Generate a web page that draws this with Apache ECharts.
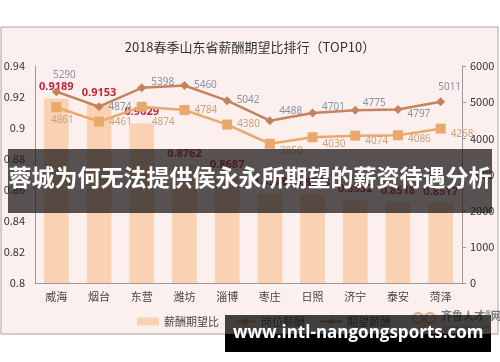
<!DOCTYPE html>
<html>
<head>
<meta charset="utf-8">
<script src="https://cdn.jsdelivr.net/npm/echarts@6/dist/echarts.min.js"></script>
<style>
html,body{margin:0;padding:0;background:#fff;}
#chart{width:500px;height:362px;}
</style>
</head>
<body>
<div id="chart"></div>
<script>
// ---- data ----
var categories = ['威海','烟台','东营','潍坊','淄博','枣庄','日照','济宁','泰安','菏泽'];
var ratioValues = [0.9189, 0.9153, 0.9029, 0.8762, 0.8687, 0.8578, 0.8573, 0.8532, 0.8518, 0.8517];
var postSalary = [4861, 4461, 4874, 4784, 4380, 3850, 4030, 4074, 4086, 4268];
var expectSalary = [5290, 4874, 5398, 5460, 5042, 4488, 4701, 4775, 4797, 5011];
var leftTicks = [0.8, 0.82, 0.84, 0.86, 0.88, 0.9, 0.92, 0.94];
var rightTicks = [0, 1000, 2000, 3000, 4000, 5000, 6000];

// ---- label placement (styling only) ----
var expectLabelPos = [
  ['top',[8,-2]],['right',[0,0]],['right',[0,-6]],['right',[0,0]],['right',[0,0]],
  ['right',[0,-10]],['right',[0,-6]],['right',[-2,-7]],['right',[0,5]],['top',[9,0]]
];
var postLabelPos = [
  ['bottom',[6,-2]],['right',[0,0]],['right',[0,15]],['right',[0,0]],['right',[0,0]],
  ['right',[0,7]],['right',[0,7]],['right',[0,5]],['right',[0,4]],['right',[0,6]]
];

var chart = echarts.init(document.getElementById('chart'), null, {renderer:'canvas'});
var fontCJK = '"Noto Sans CJK SC","Noto Sans",sans-serif';

function mk(values, pos){
  return values.map(function(v,i){
    return {value:v, label:{position:pos[i][0], offset:pos[i][1]}};
  });
}

var option = {
  backgroundColor:'#ffffff',
  animation:false,
  textStyle:{fontFamily:fontCJK},
  title:{
    text:'2018春季山东省薪酬期望比排行（TOP10）',
    left:'center', top:36,
    textStyle:{fontSize:13, fontWeight:'normal', color:'#333', fontFamily:fontCJK}
  },
  legend:{
    left:132, top:311,
    itemWidth:22, itemHeight:8, itemGap:14,
    textStyle:{fontSize:11, color:'#444'},
    data:[
      {name:'薪酬期望比', icon:'rect'},
      {name:'岗位薪酬'},
      {name:'期望薪酬'}
    ]
  },
  grid:{left:35, right:38, top:66, bottom:79},
  xAxis:{
    type:'category', data:categories, boundaryGap:true,
    axisLine:{lineStyle:{color:'#a09898', width:1}},
    axisTick:{show:false},
    axisLabel:{fontSize:11, color:'#444', margin:8}
  },
  yAxis:[
    {
      type:'value', min:leftTicks[0], max:leftTicks[leftTicks.length-1], interval:0.02,
      axisLine:{show:true, lineStyle:{color:'#a09898'}},
      axisTick:{show:false},
      splitLine:{show:false},
      axisLabel:{fontSize:11, color:'#333', margin:10,
        formatter:function(v){return String(+v.toFixed(2));}}
    },
    {
      type:'value', min:rightTicks[0], max:rightTicks[rightTicks.length-1], interval:1000,
      axisLine:{show:true, lineStyle:{color:'#a09898'}},
      axisTick:{show:true, length:4, lineStyle:{color:'#a09898'}},
      splitLine:{show:false},
      axisLabel:{fontSize:11, color:'#333', margin:8,
        formatter:function(v){return String(v);}}
    }
  ],
  series:[
    {
      name:'薪酬期望比', type:'bar', yAxisIndex:0,
      data:ratioValues, barWidth:'58%',
      itemStyle:{color:'#f8d2b2'},
      label:{show:true, position:'top', distance:6, fontSize:11, fontWeight:'bold',
        color:'#b8283c', fontFamily:'"Noto Sans",sans-serif',
        formatter:function(p){return p.value.toFixed(4);}},
      z:2
    },
    {
      name:'岗位薪酬', type:'line', yAxisIndex:1,
      data:mk(postSalary, postLabelPos),
      symbol:'rect', symbolSize:10,
      lineStyle:{color:'#eba86c', width:2.5},
      itemStyle:{color:'#eba86c'},
      label:{show:true, fontSize:10, color:'#caa27c', distance:5, fontFamily:'"Noto Sans",sans-serif'},
      z:3
    },
    {
      name:'期望薪酬', type:'line', yAxisIndex:1,
      data:mk(expectSalary, expectLabelPos),
      symbol:'diamond', symbolSize:9,
      lineStyle:{color:'#c4835c', width:2.5},
      itemStyle:{color:'#c4835c'},
      label:{show:true, fontSize:10, color:'#8593a3', distance:5, fontFamily:'"Noto Sans",sans-serif'},
      z:4
    }
  ],
  graphic:[
    {type:'rect', z:-10, shape:{x:1, y:27, width:497, height:307},
      style:{fill:'#fcf0ee', stroke:'#aaa2a2', lineWidth:1}},
    // logo
    {type:'circle', z:50, shape:{cx:418, cy:318, r:5}, style:{fill:'none', stroke:'#e6a86e', lineWidth:2}},
    {type:'circle', z:50, shape:{cx:430, cy:318, r:5}, style:{fill:'none', stroke:'#e6a86e', lineWidth:2}},
    {type:'text', z:50, left:441, top:310, style:{text:'齐鲁人才®网', fill:'#7a7a7a', font:'bold 11px "Noto Sans CJK SC"'}},
    {type:'text', z:50, left:443, top:324, style:{text:'www.qlrc.com', fill:'#999', font:'7px "Noto Sans"'}},
    // banner
    {type:'rect', z:100, shape:{x:8, y:149, width:484, height:64},
      style:{fill:'rgba(30,25,25,0.74)'}},
    {type:'text', z:101, left:'center', top:166,
      style:{text:'蓉城为何无法提供侯永永所期望的薪资待遇分析', fill:'#ffffff',
        font:'bold 23px "Noto Sans CJK SC"'}},
    // watermark
    {type:'rect', z:100, shape:{x:225, y:315, width:266, height:19},
      style:{fill:'rgba(20,20,20,0.8)'}},
    {type:'rect', z:100, shape:{x:225, y:334, width:266, height:18},
      style:{fill:'#000000'}},
    {type:'text', z:101, left:233, top:325,
      style:{text:'www.intl-nangongsports.com', fill:'#ffffff',
        font:'bold 17px "Open Sans"'}}
  ]
};
chart.setOption(option);
</script>
</body>
</html>
